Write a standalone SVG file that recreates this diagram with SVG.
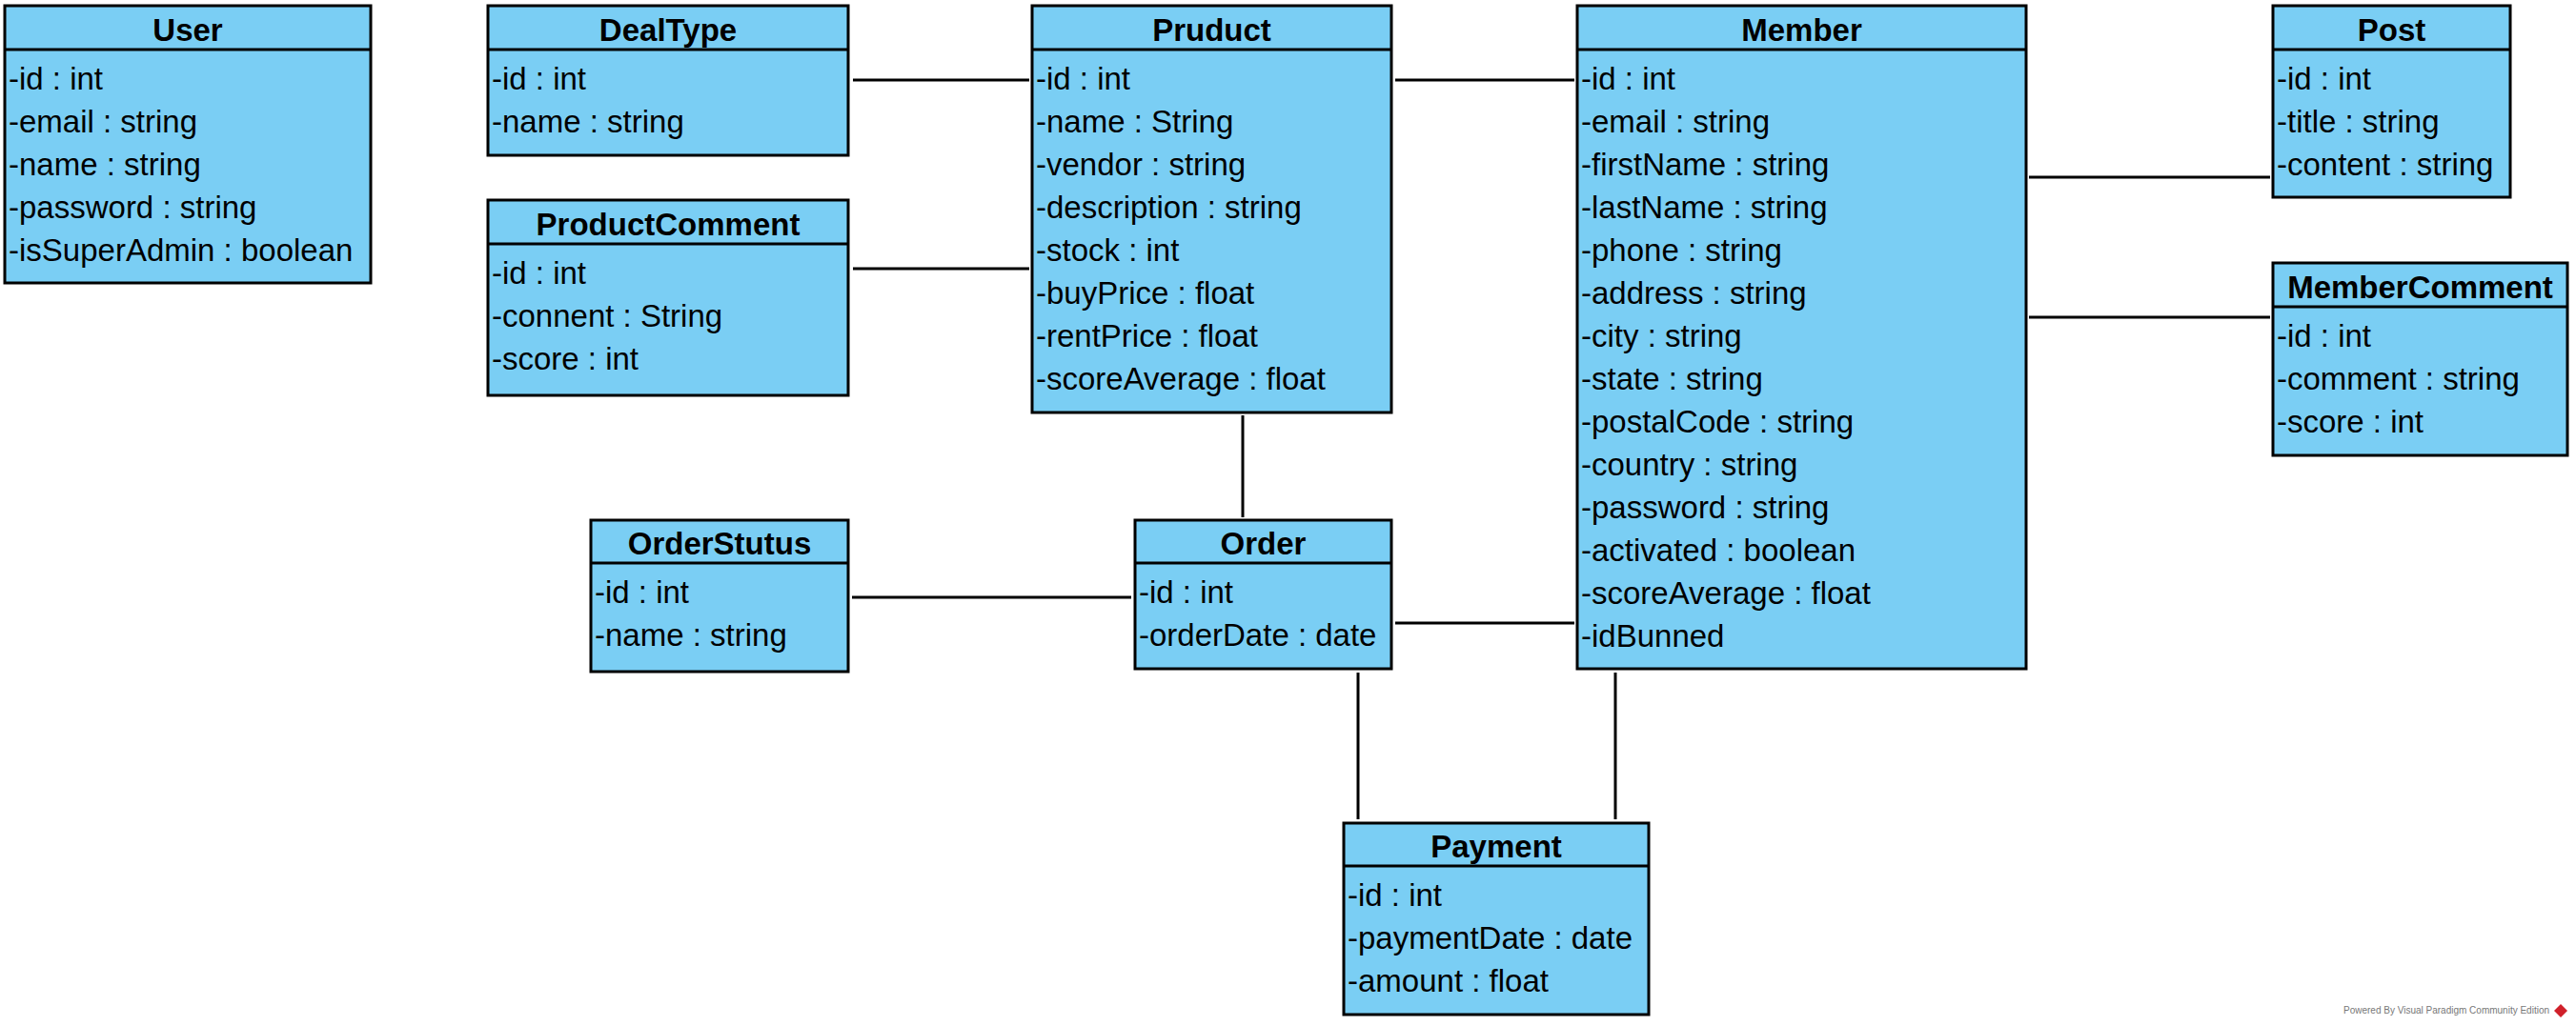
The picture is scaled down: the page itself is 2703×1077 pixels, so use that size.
<svg xmlns="http://www.w3.org/2000/svg" width="2703" height="1077" viewBox="0 0 2703 1077">
<style>
.box{fill:#7ACEF4;stroke:#000;stroke-width:3}
.hd{stroke:#000;stroke-width:3}
.t{font-family:"Liberation Sans",Arial,sans-serif;font-size:33px;font-weight:bold;text-anchor:middle;fill:#000}
.a{font-family:"Liberation Sans",Arial,sans-serif;font-size:33px;fill:#000}
.c{stroke:#000;stroke-width:3;fill:none}
.wm{font-family:"Liberation Sans",Arial,sans-serif;font-size:10px;fill:#777}
</style>
<rect width="2703" height="1077" fill="#fff"/>
<g id="connectors">
<line class="c" x1="895" y1="84" x2="1080" y2="84"/>
<line class="c" x1="895" y1="282" x2="1080" y2="282"/>
<line class="c" x1="1464" y1="84" x2="1652" y2="84"/>
<line class="c" x1="2129" y1="186" x2="2382" y2="186"/>
<line class="c" x1="2129" y1="333" x2="2382" y2="333"/>
<line class="c" x1="1304" y1="436" x2="1304" y2="543"/>
<line class="c" x1="894" y1="627" x2="1187" y2="627"/>
<line class="c" x1="1464" y1="654" x2="1652" y2="654"/>
<line class="c" x1="1425" y1="706" x2="1425" y2="860"/>
<line class="c" x1="1695" y1="706" x2="1695" y2="860"/>
</g>
<g id="User">
<rect class="box" x="5" y="6" width="384" height="291"/>
<line class="hd" x1="5" y1="52" x2="389" y2="52"/>
<text class="t" x="197" y="43">User</text>
<text class="a" x="9" y="94">-id : int</text>
<text class="a" x="9" y="139">-email : string</text>
<text class="a" x="9" y="184">-name : string</text>
<text class="a" x="9" y="229">-password : string</text>
<text class="a" x="9" y="274">-isSuperAdmin : boolean</text>
</g>
<g id="DealType">
<rect class="box" x="512" y="6" width="378" height="157"/>
<line class="hd" x1="512" y1="52" x2="890" y2="52"/>
<text class="t" x="701" y="43">DealType</text>
<text class="a" x="516" y="94">-id : int</text>
<text class="a" x="516" y="139">-name : string</text>
</g>
<g id="ProductComment">
<rect class="box" x="512" y="210" width="378" height="205"/>
<line class="hd" x1="512" y1="256" x2="890" y2="256"/>
<text class="t" x="701" y="247">ProductComment</text>
<text class="a" x="516" y="298">-id : int</text>
<text class="a" x="516" y="343">-connent : String</text>
<text class="a" x="516" y="388">-score : int</text>
</g>
<g id="Pruduct">
<rect class="box" x="1083" y="6" width="377" height="427"/>
<line class="hd" x1="1083" y1="52" x2="1460" y2="52"/>
<text class="t" x="1271.5" y="43">Pruduct</text>
<text class="a" x="1087" y="94">-id : int</text>
<text class="a" x="1087" y="139">-name : String</text>
<text class="a" x="1087" y="184">-vendor : string</text>
<text class="a" x="1087" y="229">-description : string</text>
<text class="a" x="1087" y="274">-stock : int</text>
<text class="a" x="1087" y="319">-buyPrice : float</text>
<text class="a" x="1087" y="364">-rentPrice : float</text>
<text class="a" x="1087" y="409">-scoreAverage : float</text>
</g>
<g id="Member">
<rect class="box" x="1655" y="6" width="471" height="696"/>
<line class="hd" x1="1655" y1="52" x2="2126" y2="52"/>
<text class="t" x="1890.5" y="43">Member</text>
<text class="a" x="1659" y="94">-id : int</text>
<text class="a" x="1659" y="139">-email : string</text>
<text class="a" x="1659" y="184">-firstName : string</text>
<text class="a" x="1659" y="229">-lastName : string</text>
<text class="a" x="1659" y="274">-phone : string</text>
<text class="a" x="1659" y="319">-address : string</text>
<text class="a" x="1659" y="364">-city : string</text>
<text class="a" x="1659" y="409">-state : string</text>
<text class="a" x="1659" y="454">-postalCode : string</text>
<text class="a" x="1659" y="499">-country : string</text>
<text class="a" x="1659" y="544">-password : string</text>
<text class="a" x="1659" y="589">-activated : boolean</text>
<text class="a" x="1659" y="634">-scoreAverage : float</text>
<text class="a" x="1659" y="679">-idBunned</text>
</g>
<g id="Post">
<rect class="box" x="2385" y="6" width="249" height="201"/>
<line class="hd" x1="2385" y1="52" x2="2634" y2="52"/>
<text class="t" x="2509.5" y="43">Post</text>
<text class="a" x="2389" y="94">-id : int</text>
<text class="a" x="2389" y="139">-title : string</text>
<text class="a" x="2389" y="184">-content : string</text>
</g>
<g id="MemberComment">
<rect class="box" x="2385" y="276" width="309" height="202"/>
<line class="hd" x1="2385" y1="322" x2="2694" y2="322"/>
<text class="t" x="2539.5" y="313">MemberComment</text>
<text class="a" x="2389" y="364">-id : int</text>
<text class="a" x="2389" y="409">-comment : string</text>
<text class="a" x="2389" y="454">-score : int</text>
</g>
<g id="OrderStutus">
<rect class="box" x="620" y="546" width="270" height="159"/>
<line class="hd" x1="620" y1="591" x2="890" y2="591"/>
<text class="t" x="755" y="582">OrderStutus</text>
<text class="a" x="624" y="633">-id : int</text>
<text class="a" x="624" y="678">-name : string</text>
</g>
<g id="Order">
<rect class="box" x="1191" y="546" width="269" height="156"/>
<line class="hd" x1="1191" y1="591" x2="1460" y2="591"/>
<text class="t" x="1325.5" y="582">Order</text>
<text class="a" x="1195" y="633">-id : int</text>
<text class="a" x="1195" y="678">-orderDate : date</text>
</g>
<g id="Payment">
<rect class="box" x="1410" y="864" width="320" height="201"/>
<line class="hd" x1="1410" y1="909" x2="1730" y2="909"/>
<text class="t" x="1570" y="900">Payment</text>
<text class="a" x="1414" y="951">-id : int</text>
<text class="a" x="1414" y="996">-paymentDate : date</text>
<text class="a" x="1414" y="1041">-amount : float</text>
</g>
<g id="watermark">
<text class="wm" x="2459" y="1064">Powered By Visual Paradigm Community Edition</text>
<polygon points="2687,1054 2694,1061 2687,1068 2680,1061" fill="#d0202a"/>
</g>
</svg>
